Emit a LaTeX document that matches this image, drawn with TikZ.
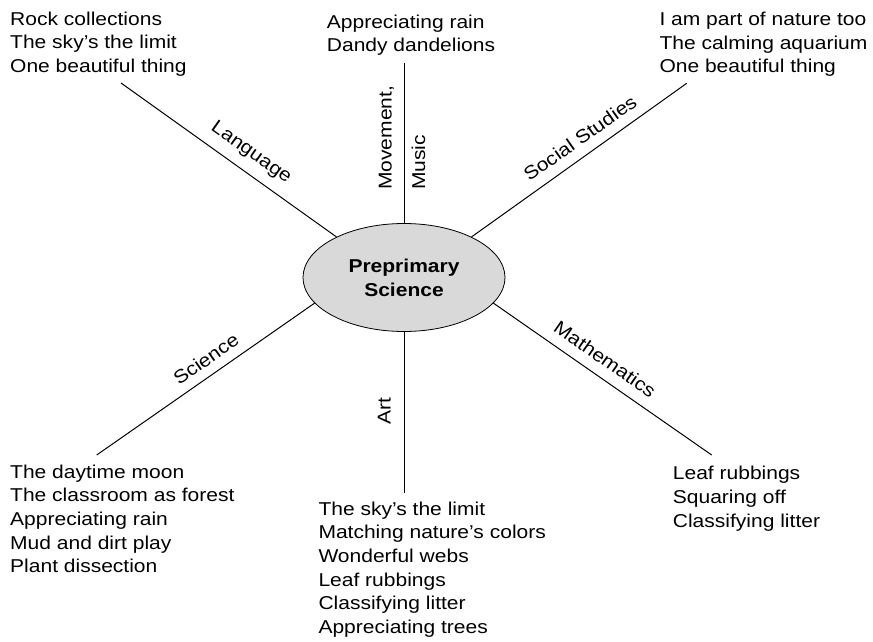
\documentclass[tikz,border=0pt]{standalone}
\usepackage{fontspec}
\setmainfont{Liberation Sans}[FakeStretch=1.13]
\usetikzlibrary{shapes.geometric}
\begin{document}
\begin{tikzpicture}[x=1pt,y=-1pt,
  every node/.style={font=\fontsize{18.6}{23.7}\selectfont, inner sep=0pt},
  % lists are placed by the baseline of their last line
  items/.style={align=left, anchor=base west},
  spoke/.style={line width=1pt},
  hub/.style={ellipse, draw, line width=0.8pt, fill=black!15,
    minimum width=202pt, minimum height=108pt, align=center,
    font=\fontsize{18.6}{24}\selectfont\bfseries},
  topic/.style={anchor=center},
  vtopic/.style={rotate=90, anchor=base west}
]
\useasboundingbox (0,0) rectangle (873,642);

% central hub
\node[hub] (hub) at (404,277.5) {Preprimary\\Science};

% activity lists at the end of each spoke
\node[items] (langlist) at (10,72.6) {Rock collections\\The sky’s the limit\\One beautiful thing};
\node[items] (movelist) at (326.7,51.8) {Appreciating rain\\Dandy dandelions};
\node[items] (soclist) at (659.3,72.8) {I am part of nature too\\The calming aquarium\\One beautiful thing};
\node[items] (scilist) at (10,572.8) {The daytime moon\\The classroom as forest\\Appreciating rain\\Mud and dirt play\\Plant dissection};
\node[items] (artlist) at (318.3,633.5) {The sky’s the limit\\Matching nature’s colors\\Wonderful webs\\Leaf rubbings\\Classifying litter\\Appreciating trees};
\node[items] (mathlist) at (672.7,527.2) {Leaf rubbings\\Squaring off\\Classifying litter};

% free ends of the spokes
\coordinate (eLang) at (121,83);
\coordinate (eMove) at (404,63);
\coordinate (eSoc) at (686.7,83.3);
\coordinate (eSci) at (96.7,455);
\coordinate (eArt) at (404,493);
\coordinate (eMath) at (711.7,455);

% spokes
\draw[spoke] (hub.149) -- (eLang);
\draw[spoke] (hub.north) -- (eMove);
\draw[spoke] (hub.31) -- (eSoc);
\draw[spoke] (hub.196) -- (eSci);
\draw[spoke] (hub.south) -- (eArt);
\draw[spoke] (hub.344) -- (eMath);

% subject labels along the spokes
\node[topic, rotate=-35.2] (tLang) at (251,153) {Language};
\node[topic, rotate=35.2] (tSoc) at (580,138) {Social Studies};
\node[topic, rotate=35] (tSci) at (206,359) {Science};
\node[topic, rotate=-35] (tMath) at (605,359) {Mathematics};
\node[vtopic] (tMove) at (391.7,190) {Movement,};
\node[vtopic] (tMusic) at (425,190) {Music};
\node[vtopic] (tArt) at (390.7,425) {Art};
\end{tikzpicture}
\end{document}
